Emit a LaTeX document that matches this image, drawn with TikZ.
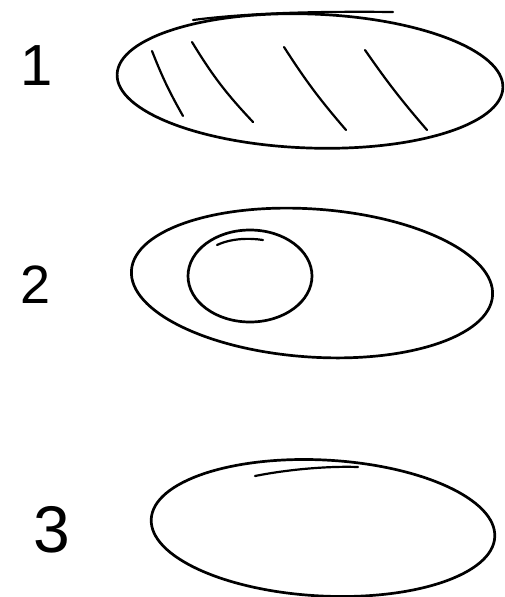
\documentclass[tikz,border=0pt]{standalone}
\usepackage{fontspec}
\setmainfont{Liberation Sans}
\begin{document}
\begin{tikzpicture}[x=1pt,y=-1pt,
  pen/.style={line width=2.7pt,line cap=round,line join=round,black},
  thinpen/.style={line width=2.2pt,line cap=round,black},
  digit/.style={inner sep=0pt,anchor=center,font=\fontsize{58}{58}\selectfont}]
\useasboundingbox (0,0) rectangle (504,597);
% labels
\node[digit] (l1) at (37,66) {1};
\node[digit,font=\fontsize{54}{54}\selectfont] (l2) at (36,285) {2};
\node[digit,font=\fontsize{66}{66}\selectfont] (l3) at (52,530) {3};
% ellipse 1 with hatching
\draw[pen] (310,81) ellipse [x radius=193, y radius=67, rotate=-2];
\draw[thinpen] (193,20) .. controls (240,14) and (300,11) .. (393,12);
\draw[thinpen] (152,51) to[bend right=4] (183,116);
\draw[thinpen] (192,42) to[bend right=6] (253,122);
\draw[thinpen] (284,47) to[bend right=4] (346,130);
\draw[thinpen] (365,50) to[bend right=3] (427,130);
% ellipse 2 with inner circle
\draw[pen] (312,283) ellipse [x radius=181, y radius=74, rotate=-4];
\draw[pen] (250,276) ellipse [x radius=62, y radius=46];
\draw[thinpen] (217,245) .. controls (232,238) and (250,238) .. (263,240);
% ellipse 3
\draw[pen] (323,528) ellipse [x radius=172, y radius=68, rotate=-3];
\draw[thinpen] (255,476) .. controls (290,469) and (330,466) .. (358,467);
\end{tikzpicture}
\end{document}
